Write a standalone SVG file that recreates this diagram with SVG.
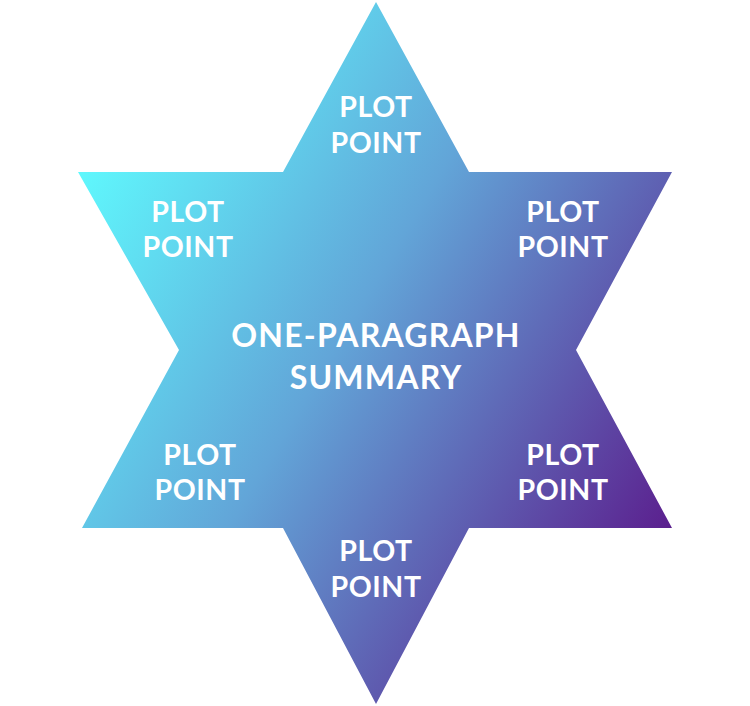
<svg xmlns="http://www.w3.org/2000/svg" width="750" height="706" viewBox="0 0 750 706">
<defs>
<linearGradient id="g" x1="78" y1="172" x2="672" y2="528" gradientUnits="userSpaceOnUse">
<stop offset="0" stop-color="#5ff8fd"/>
<stop offset="0.45" stop-color="#62a5d8"/>
<stop offset="1" stop-color="#5b1f8e"/>
</linearGradient>
<style>text{font-family:Lato,"Liberation Sans",sans-serif;font-weight:bold;fill:#fff;text-anchor:middle;font-size:28.5px;letter-spacing:0.6px}.c{font-size:32px;letter-spacing:1.2px}</style>
</defs>
<g id="star"><path d="M376,2 L469,172 L672,172 L576,350 L672,528 L469,528 L376,704 L283,528 L82,528 L179,350 L78,172 L283,172 Z" fill="url(#g)"/></g>
<g id="n1"><text x="376" y="117">PLOT</text><text x="376" y="153">POINT</text></g>
<g id="n2"><text x="188" y="222">PLOT</text><text x="188" y="257">POINT</text></g>
<g id="n3"><text x="563" y="222">PLOT</text><text x="563" y="257">POINT</text></g>
<g id="n4"><text x="200" y="465">PLOT</text><text x="200" y="500">POINT</text></g>
<g id="n5"><text x="563" y="465">PLOT</text><text x="563" y="500">POINT</text></g>
<g id="n6"><text x="376" y="561">PLOT</text><text x="376" y="597">POINT</text></g>
<g id="center"><text class="c" x="376" y="347">ONE-PARAGRAPH</text><text class="c" x="376" y="389">SUMMARY</text></g>
<g id="connectors"/>
</svg>
